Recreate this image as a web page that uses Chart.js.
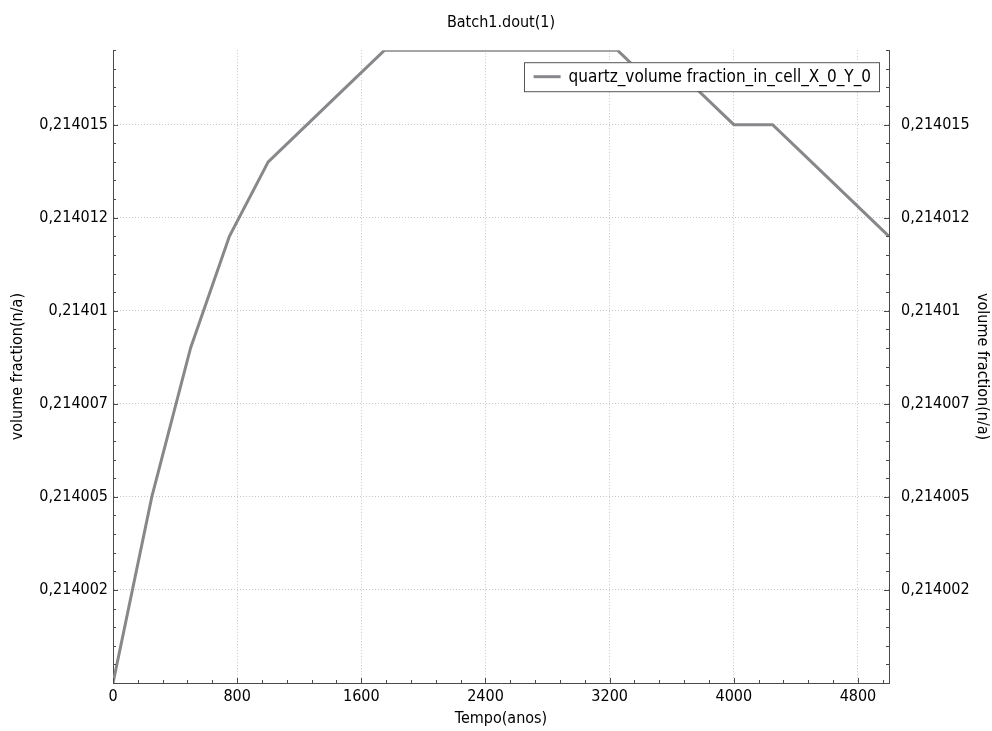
<!DOCTYPE html>
<html>
<head>
<meta charset="utf-8">
<title>Batch1.dout(1)</title>
<script src="https://cdn.jsdelivr.net/npm/chart.js@4.4.1/dist/chart.umd.min.js"></script>
<style>
  html, body { margin: 0; padding: 0; background: #fff; }
  #wrap { width: 992px; height: 731px; }
</style>
</head>
<body>
<div id="wrap"><canvas id="batchChart" width="992" height="731"></canvas></div>
<script>
// tempo (anos) e fração de volume do quartzo na célula X_0_Y_0
const tempo = [0, 250, 500, 750, 1000, 1250, 1500, 1750, 2000, 2250, 2500,
  2750, 3000, 3250, 3500, 3750, 4000, 4250, 4500, 4750, 5000];
const quartzFraction = [0.214000, 0.214005, 0.214009, 0.214012, 0.214014, 0.214015,
  0.214016, 0.214017, 0.214017, 0.214017, 0.214017, 0.214017, 0.214017, 0.214017,
  0.214016, 0.214016, 0.214015, 0.214015, 0.214014, 0.214013, 0.214012];

const xTickValues = [0, 800, 1600, 2400, 3200, 4000, 4800];
const yTickValues = [0.2140025, 0.214005, 0.2140075, 0.21401, 0.2140125, 0.214015];
const yTickLabels = ['0,214002', '0,214005', '0,214007', '0,21401', '0,214012', '0,214015'];

const seriesLabel = 'quartz_volume fraction_in_cell_X_0_Y_0';
const FONT = "'DejaVu Sans Condensed', 'Liberation Sans', sans-serif";
const AXIS = '#4a4a4a';

Chart.defaults.font.family = FONT;
Chart.defaults.font.size = 16;
Chart.defaults.color = '#000';

// pequenos traços das escalas (principais e secundários), voltados para dentro
const minorTicks = {
  id: 'minorTicks',
  afterDraw(chart) {
    const { ctx, chartArea: a, scales: { x, y } } = chart;
    ctx.save();
    ctx.strokeStyle = AXIS;
    ctx.lineWidth = 1;
    ctx.beginPath();
    for (let i = 0; i * 160 <= x.max; i++) {
      const px = Math.round(x.getPixelForValue(i * 160)) + 0.5;
      const len = i % 5 === 0 ? 5 : 3;
      ctx.moveTo(px, a.bottom);
      ctx.lineTo(px, a.bottom - len);
    }
    for (let i = 0; y.min + i * 0.5e-6 <= y.max + 1e-12; i++) {
      const py = Math.round(y.getPixelForValue(y.min + i * 0.5e-6)) + 0.5;
      const len = i % 5 === 0 ? 5 : 3;
      ctx.moveTo(a.left, py);
      ctx.lineTo(a.left + len, py);
      ctx.moveTo(a.right, py);
      ctx.lineTo(a.right - len, py);
    }
    ctx.stroke();
    ctx.restore();
  }
};

// legenda em caixa dentro da área do gráfico, canto superior direito
const boxLegend = {
  id: 'boxLegend',
  afterDraw(chart) {
    const { ctx, chartArea: a } = chart;
    const ds = chart.data.datasets[0];
    ctx.save();
    ctx.font = '17px ' + FONT;
    const tw = ctx.measureText(ds.label).width;
    const w = 10 + 27 + 8 + tw + 8;
    const h = 29;
    const right = a.right - 10;
    const left = right - w;
    const top = a.top + 12;
    ctx.fillStyle = '#fff';
    ctx.fillRect(left, top, w, h);
    ctx.strokeStyle = '#555';
    ctx.lineWidth = 1;
    ctx.strokeRect(Math.round(left) + 0.5, top + 0.5, Math.round(w), h);
    ctx.strokeStyle = ds.borderColor;
    ctx.lineWidth = ds.borderWidth;
    ctx.beginPath();
    ctx.moveTo(left + 10, top + h / 2);
    ctx.lineTo(left + 37, top + h / 2);
    ctx.stroke();
    ctx.fillStyle = '#000';
    ctx.textBaseline = 'middle';
    ctx.fillText(ds.label, left + 45, top + h / 2 + 1);
    ctx.restore();
  }
};

new Chart(document.getElementById('batchChart'), {
  type: 'line',
  data: {
    datasets: [{
      label: seriesLabel,
      data: tempo.map((t, i) => ({ x: t, y: quartzFraction[i] })),
      borderColor: '#88888c',
      borderWidth: 3,
      pointRadius: 0,
      tension: 0,
      yAxisID: 'y'
    }]
  },
  options: {
    responsive: false,
    animation: false,
    layout: { padding: 0 },
    plugins: {
      legend: { display: false },
      tooltip: { enabled: false },
      title: {
        display: true,
        text: 'Batch1.dout(1)',
        fullSize: false,
        color: '#000',
        font: { size: 16, weight: 'normal' },
        padding: { top: 13, bottom: 18 }
      }
    },
    scales: {
      x: {
        type: 'linear',
        min: 0,
        max: 5000,
        afterBuildTicks: s => { s.ticks = xTickValues.map(v => ({ value: v })); },
        afterFit: s => { s.height = 48; },
        ticks: { padding: 4, maxRotation: 0, callback: v => String(v) },
        grid: { color: '#c6c6c6', drawTicks: false },
        border: { color: AXIS, width: 1, dash: [1, 2] },
        title: { display: true, text: 'Tempo(anos)', padding: { top: 0, bottom: 3 } }
      },
      y: {
        type: 'linear',
        position: 'left',
        min: 0.214,
        max: 0.214017,
        afterBuildTicks: s => { s.ticks = yTickValues.map(v => ({ value: v })); },
        afterFit: s => { s.width = 113; },
        ticks: { padding: 5, callback: (value, index) => yTickLabels[index] },
        grid: { color: '#c6c6c6', drawTicks: false },
        border: { color: AXIS, width: 1, dash: [1, 2] },
        title: { display: true, text: 'volume fraction(n/a)', padding: { top: 8, bottom: 0 } }
      },
      y2: {
        type: 'linear',
        position: 'right',
        min: 0.214,
        max: 0.214017,
        afterBuildTicks: s => { s.ticks = yTickValues.map(v => ({ value: v })); },
        afterFit: s => { s.width = 103; },
        ticks: { padding: 4, callback: (value, index) => yTickLabels[index] },
        grid: { display: false },
        border: { display: true, color: AXIS, width: 1 },
        title: { display: true, text: 'volume fraction(n/a)', padding: { top: 0, bottom: 0 } }
      }
    }
  },
  plugins: [minorTicks, boxLegend]
});
</script>
</body>
</html>
